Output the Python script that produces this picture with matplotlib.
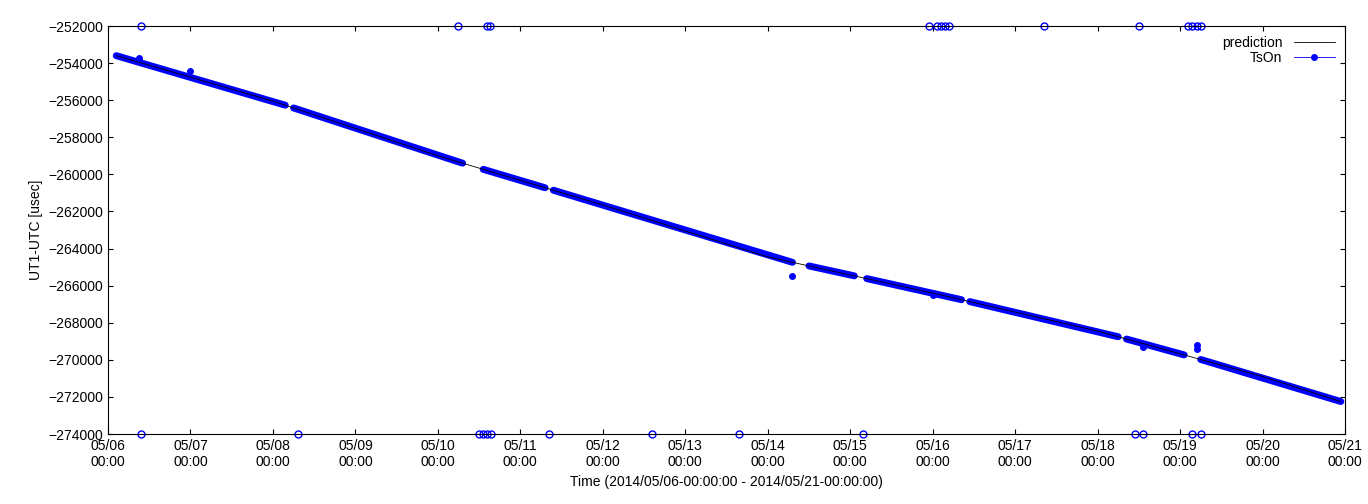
import matplotlib
matplotlib.use("Agg")
import matplotlib.pyplot as plt
import numpy as np

# prediction knots: (day since 05/06 00:00, UT1-UTC usec)
pred_days = [0.1, 2.0, 4.0, 6.0, 8.0, 10.0, 12.0, 14.0, 14.95]
pred_vals = [-253600, -256050, -259000, -261650, -264450, -266400, -268450, -270900, -272250]

# TsOn observed segments (start day, end day)
seg_start = [0.1, 2.25, 4.55, 5.4, 8.5, 9.2, 10.45, 12.35, 13.25]
seg_end   = [2.15, 4.3, 5.3, 8.3, 9.05, 10.35, 12.25, 13.05, 14.95]
# isolated TsOn points
out_days = [0.38, 1.0, 8.3, 10.0, 12.55, 13.2, 13.2]
out_vals = [-253700, -254450, -265500, -266500, -269300, -269200, -269400]
# points outside range (shown on border)
top_days = [0.4, 4.25, 4.6, 4.63, 9.95, 10.05, 10.1, 10.15, 10.2, 11.35, 12.5, 13.1, 13.15, 13.2, 13.25]
bot_days = [0.4, 2.3, 4.5, 4.55, 4.6, 4.65, 5.35, 6.6, 7.65, 9.15, 12.45, 12.55, 13.15, 13.25]

xticks = list(range(16))
xlabels = [f"05/{6+d:02d}\n00:00" for d in xticks]

plt.rcParams['font.family'] = ['Liberation Sans', 'DejaVu Sans']
fig = plt.figure(figsize=(13.68, 5.04), dpi=100)
ax = fig.add_axes([108/1368, 70/504, 1237/1368, 408/504])

ax.plot(pred_days, pred_vals, color='black', lw=0.6, label='prediction', zorder=3)
for s, e in zip(seg_start, seg_end):
    ys = np.interp([s, e], pred_days, pred_vals)
    ax.plot([s, e], ys, color='#0000ff', lw=5, solid_capstyle='round', zorder=2)
ax.plot(out_days, out_vals, 'o', color='#0000ff', ms=4, zorder=2)
ax.plot(top_days, [-252000]*len(top_days), 'o', mfc='none', mec='#0000ff', ms=5, clip_on=False)
ax.plot(bot_days, [-274000]*len(bot_days), 'o', mfc='none', mec='#0000ff', ms=5, clip_on=False)
ax.plot([], [], '-o', color='#0000ff', lw=0.6, ms=4, label='TsOn')

ax.set_xlim(0, 15)
ax.set_ylim(-274000, -252000)
ax.set_xticks(xticks)
ax.set_xticklabels(xlabels)
ax.set_yticks(range(-274000, -251999, 2000))
ax.tick_params(direction='in', top=True, right=True, labelsize=10)
ax.set_xlabel('Time (2014/05/06-00:00:00 - 2014/05/21-00:00:00)', fontsize=10)
ax.set_ylabel('UT1-UTC [usec]', fontsize=10)
leg = ax.legend(loc='upper right', frameon=False, fontsize=10, markerfirst=False,
                handlelength=3, borderaxespad=0.3, labelspacing=0.1)
fig.savefig('out.png', dpi=100)
